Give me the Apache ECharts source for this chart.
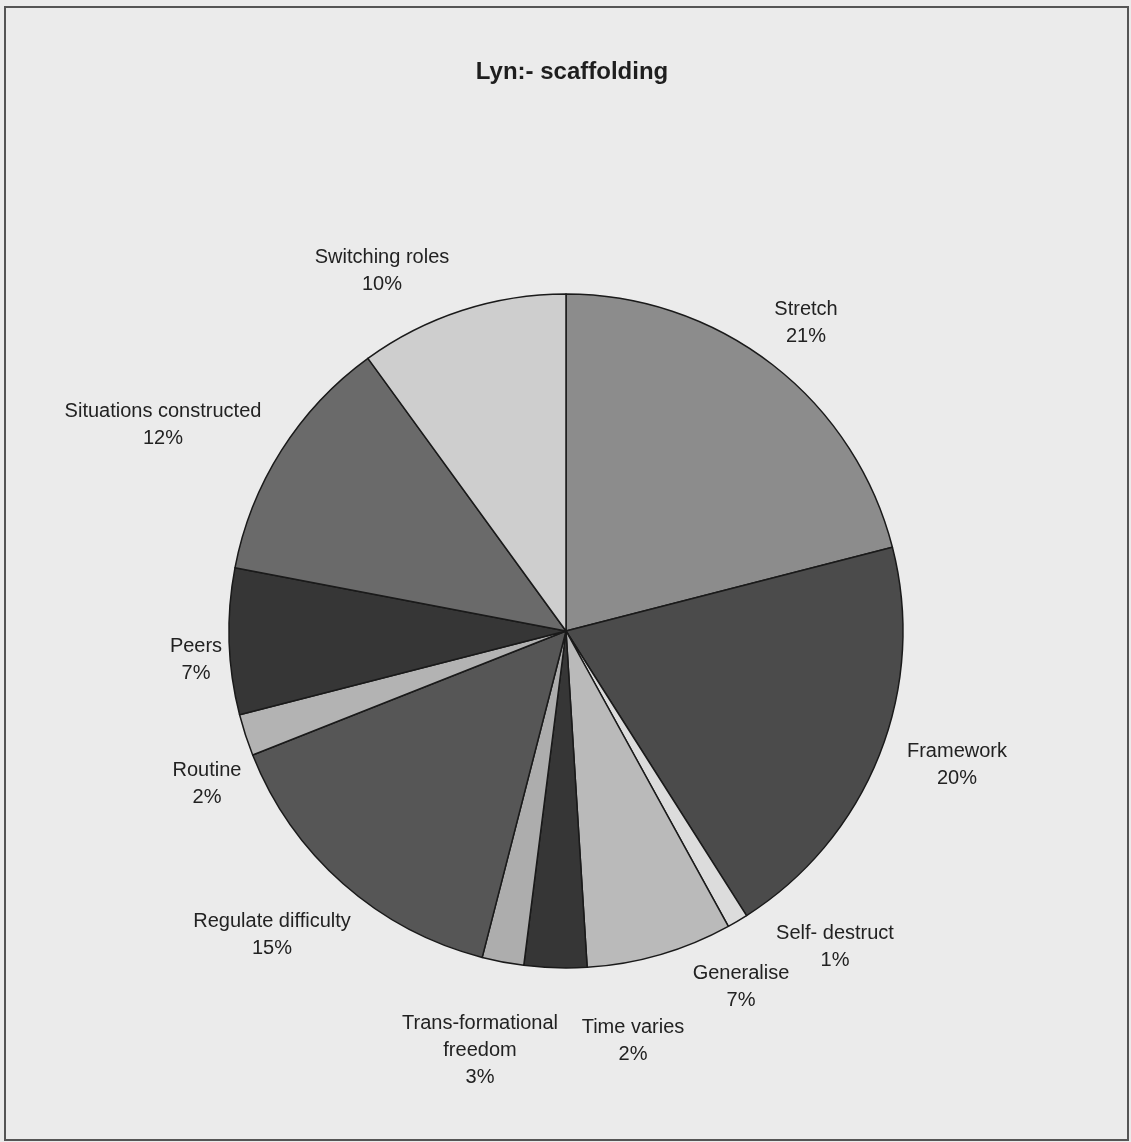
<!DOCTYPE html>
<html>
<head>
<meta charset="utf-8">
<title>Lyn:- scaffolding</title>
<script src="https://cdn.jsdelivr.net/npm/echarts@6/dist/echarts.min.js"></script>
<style>
  html, body { margin: 0; padding: 0; background: #ebebeb; }
  #chart { width: 1131px; height: 1142px; }
</style>
</head>
<body>
<div id="chart"></div>
<script>
// Slices listed clockwise from 12 o'clock
const categories = [
  'Stretch', 'Framework', 'Self- destruct', 'Generalise',
  'Trans-formational\nfreedom', 'Time varies', 'Regulate difficulty',
  'Routine', 'Peers', 'Situations constructed', 'Switching roles'
];
const shares = [21, 20, 1, 7, 3, 2, 15, 2, 7, 12, 10];   // percent

// grey fills, one per slice
const fills = [
  '#8c8c8c', '#4b4b4b', '#dcdcdc', '#bababa',
  '#363636', '#adadad', '#565656',
  '#b3b3b3', '#363636', '#6a6a6a', '#cecece'
];
// where each two-line label sits (centre of the text block)
const labelAnchors = [
  [806, 323], [957, 765], [835, 947], [741, 987],
  [480, 1050], [633, 1041], [272, 935],
  [207, 784], [196, 660], [163, 425], [382, 271]
];

const chart = echarts.init(document.getElementById('chart'), null, { renderer: 'canvas' });

const font = '"Liberation Sans", Arial, sans-serif';

chart.setOption({
  backgroundColor: '#ebebeb',
  animation: false,
  title: {
    text: 'Lyn:- scaffolding',
    left: 567,
    top: 55,
    textAlign: 'center',
    textStyle: { fontFamily: font, fontSize: 24, fontWeight: 'bold', color: '#1e1e1e' }
  },
  graphic: [{
    type: 'rect',
    shape: { x: 5, y: 7, width: 1123, height: 1133 },
    style: { fill: 'none', stroke: '#555', lineWidth: 2 },
    silent: true
  }],
  series: [{
    type: 'pie',
    center: [566, 631],
    radius: 337,
    startAngle: 90,
    clockwise: true,
    avoidLabelOverlap: false,
    data: categories.map((name, i) => ({
      name: name,
      value: shares[i],
      itemStyle: { color: fills[i] }
    })),
    itemStyle: { borderColor: '#1a1a1a', borderWidth: 1.5 },
    label: {
      show: true,
      position: 'outside',
      formatter: p => p.name + '\n' + p.value + '%',
      fontFamily: font,
      fontSize: 20,
      lineHeight: 27,
      color: '#222',
      align: 'center'
    },
    labelLine: { show: false },
    labelLayout: params => {
      const a = labelAnchors[params.dataIndex];
      return { x: a[0], y: a[1], align: 'center', verticalAlign: 'middle' };
    },
    emphasis: { disabled: true }
  }]
});
</script>
</body>
</html>
